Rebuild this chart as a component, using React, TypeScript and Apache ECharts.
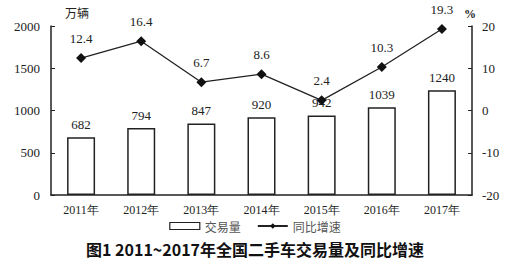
import React, { useEffect, useRef } from "react";
import * as echarts from "echarts";

const years = ["2011年", "2012年", "2013年", "2014年", "2015年", "2016年", "2017年"];
const volume = [682, 794, 847, 920, 942, 1039, 1240];
const growth = [12.4, 16.4, 6.7, 8.6, 2.4, 10.3, 19.3];
const titleText = "图1 2011~2017年全国二手车交易量及同比增速";

const SERIF = "'Times New Roman', 'Liberation Serif', 'DejaVu Serif', serif";
const CJK = "Noto Sans CJK SC, sans-serif";

export default function App() {
  const ref = useRef<HTMLDivElement>(null);
  useEffect(() => {
    const chart = echarts.init(ref.current!, null, { renderer: "svg" });
    chart.setOption({
      animation: false,
      backgroundColor: "#fff",
      textStyle: { fontFamily: SERIF },
      title: {
        text: titleText,
        left: "center",
        top: 240,
        padding: 0,
        textStyle: { fontFamily: CJK, fontSize: 16, lineHeight: 17, fontWeight: "bold", color: "#111" },
      },
      legend: {
        top: 219,
        left: "center",
        itemGap: 16,
        padding: 0,
        textStyle: { fontFamily: CJK, fontSize: 12, lineHeight: 14, color: "#555" },
        data: [
          { name: "交易量", icon: "rect", itemStyle: { color: "#fff", borderColor: "#222", borderWidth: 1.2 } },
          { name: "同比增速" },
        ],
        itemWidth: 30,
        itemHeight: 7,
      },
      grid: { left: 51, right: 38, top: 26, bottom: 65 },
      xAxis: {
        type: "category",
        data: years,
        axisLine: { lineStyle: { color: "#222", width: 1.5 } },
        axisTick: { inside: true, length: 4, lineStyle: { color: "#222" } },
        axisLabel: { color: "#222", fontSize: 12, fontFamily: SERIF, margin: 9 },
      },
      yAxis: [
        {
          type: "value",
          min: 0,
          max: 2000,
          interval: 500,
          name: "万辆",
          nameGap: 8,
          nameTextStyle: { fontFamily: CJK, fontSize: 12, color: "#222", align: "left", padding: [0, 0, 0, 14] },
          splitLine: { show: false },
          axisLine: { show: true, lineStyle: { color: "#222", width: 1.5 } },
          axisTick: { show: true, inside: true, length: 4, lineStyle: { color: "#222" } },
          axisLabel: { color: "#222", fontSize: 13, fontFamily: SERIF, margin: 11, formatter: (v: number) => String(v) },
        },
        {
          type: "value",
          min: -20,
          max: 20,
          interval: 10,
          name: "%",
          nameGap: 6,
          nameTextStyle: { fontFamily: SERIF, fontSize: 12, fontWeight: "bold", color: "#222", align: "right", padding: [0, -4, 0, 0] },
          splitLine: { show: false },
          axisLine: { show: true, lineStyle: { color: "#222", width: 1.5 } },
          axisTick: { show: true, inside: true, length: 4, lineStyle: { color: "#222" } },
          axisLabel: { color: "#222", fontSize: 13, fontFamily: SERIF, margin: 10 },
        },
      ],
      series: [
        {
          name: "交易量",
          type: "bar",
          data: volume,
          barWidth: 28,
          itemStyle: { color: "#fff", borderColor: "#222", borderWidth: 1.5 },
          label: { show: true, position: "top", distance: 6, color: "#222", fontSize: 13, fontFamily: SERIF },
        },
        {
          name: "同比增速",
          type: "line",
          yAxisIndex: 1,
          data: growth,
          symbol: "diamond",
          symbolSize: 10,
          lineStyle: { color: "#222", width: 1.3 },
          itemStyle: { color: "#111" },
          label: { show: true, position: "top", distance: 8, color: "#222", fontSize: 13, fontFamily: SERIF },
        },
      ],
    });
    return () => chart.dispose();
  }, []);
  return <div ref={ref} style={{ width: 510, height: 260, position: "absolute", left: 0, top: 0 }} />;
}
